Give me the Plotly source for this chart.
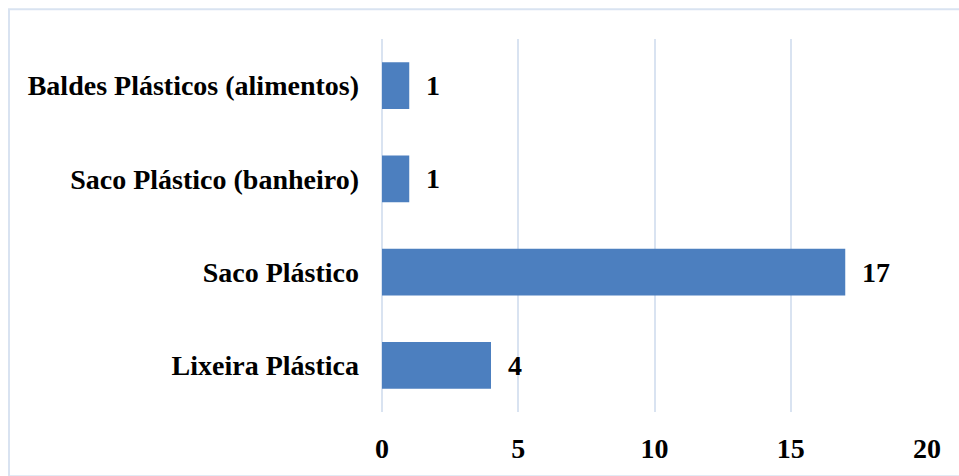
import plotly.graph_objects as go

categories = ["Lixeira Plástica", "Saco Plástico", "Saco Plástico (banheiro)", "Baldes Plásticos (alimentos)"]
values = [4, 17, 1, 1]
x_ticks = [0, 5, 10, 15, 20]

FONT = "'Liberation Serif', 'Times New Roman', serif"
L, R, T, B = 382, 32, 39, 60
W, H = 959, 476
pw, ph = W - L - R, H - T - B
GRID = "#d9e3f1"

fig = go.Figure()
fig.add_trace(go.Bar(
    x=values, y=categories, orientation="h",
    marker=dict(color="#4c7fbf", line=dict(width=0)),
    hoverinfo="x+y",
))

for v, c in zip(values, categories):
    fig.add_annotation(x=v, y=c, text="<b>%d</b>" % v, showarrow=False,
                       xanchor="left", xshift=15,
                       font=dict(family=FONT, size=28, color="black"))

fig.update_layout(
    width=W, height=H,
    margin=dict(l=L, r=R, t=T, b=B, pad=0),
    paper_bgcolor="white", plot_bgcolor="white",
    bargap=0.5, showlegend=False,
    font=dict(family=FONT, size=28, color="black"),
    xaxis=dict(range=[0, 20], tickvals=x_ticks, ticktext=["<b>%d</b>" % t for t in x_ticks],
               showgrid=True, gridcolor=GRID, gridwidth=2, zeroline=True,
               zerolinecolor=GRID, zerolinewidth=2,
               showline=False, ticks="", ticklabelstandoff=17),
    yaxis=dict(categoryorder="array", categoryarray=categories,
               ticktext=["<b>%s</b>" % c for c in categories], tickvals=categories,
               showgrid=False, zeroline=False, showline=False, ticks="",
               ticklabelstandoff=22),
    shapes=[dict(type="rect", xref="paper", yref="paper",
                 x0=(9 - L) / pw, x1=(W + 5 - L) / pw,
                 y0=-(H + 5 - T - ph) / ph, y1=1 + (T - 9) / ph,
                 line=dict(color=GRID, width=2), fillcolor="rgba(0,0,0,0)", layer="below")],
)

fig.write_html("out.html")
